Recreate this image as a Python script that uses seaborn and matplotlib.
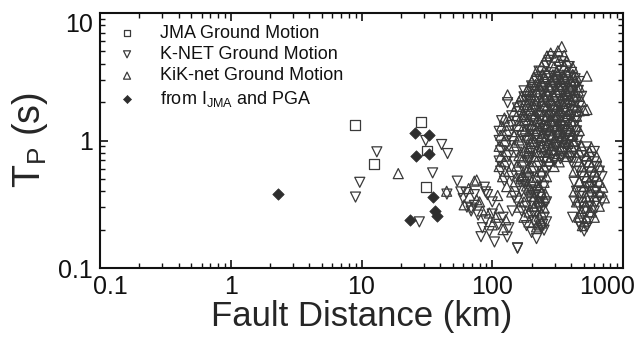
import matplotlib
matplotlib.use("Agg")
import matplotlib.pyplot as plt
import matplotlib.transforms as mtransforms
from matplotlib.ticker import FixedLocator, NullFormatter, LogLocator
import seaborn as sns
import pandas as pd

# ---------------- data ----------------
jma_dist = [8.95, 12.4, 28.6, 31.7, 31.1]
jma_tp = [1.32, 0.655, 1.39, 0.834, 0.43]

calc_dist = [2.28, 25.7, 32.7, 26.0, 32.6, 35.5, 36.5, 38.0, 23.7]
calc_tp = [0.383, 1.15, 1.10, 0.76, 0.785, 0.36, 0.28, 0.255, 0.239]

knet_dist = [
    9.0, 9.7, 13.1, 27.7, 31, 35, 41, 45.5, 45, 54, 57.5,
    63, 73, 87, 92, 64, 73, 69, 100, 89, 84, 121, 134, 82, 104, 130, 156, 142, 95, 89, 69, 100, 60, 78, 112,
    285,
    272, 339,
    260, 325, 388,
    228, 285, 339, 404, 430,
    228, 272, 325, 388,
    218, 260, 310, 370, 463,
    200, 249, 297, 355, 423,
    175, 209, 238, 285, 339, 404, 455,
    175, 228, 272, 325, 388, 482,
    131, 183, 218, 260, 310, 370, 441,
    156, 168, 228, 272, 325, 388, 463,
    160, 209, 249, 297, 355, 423,
    141, 191, 238, 285, 340, 404, 441,
    118, 154, 200, 249, 310, 370, 441,
    141, 183, 238, 285, 340, 423,
    113, 154, 200, 249, 297, 355, 441,
    134, 168, 218, 260, 310, 370, 430,
    113, 141, 183, 228, 272, 325, 388, 450,
    127, 168, 218, 260, 310, 370, 441, 527,
    116, 154, 200, 249, 297, 355, 423, 505, 603,
    134, 183, 238, 285, 340, 404, 482, 574,
    113, 147, 191, 249, 297, 404, 505, 603,
    129, 175, 228, 272, 527, 627,
    116, 160, 209, 260, 441, 552, 659,
    141, 191, 238, 482, 574, 690,
    124, 175, 228, 423, 505, 603,
    160, 209, 249, 527, 574,
    168, 218, 441, 482, 627,
    147, 191, 238, 463, 574, 659,
    154, 200, 260, 423, 482, 627, 690,
    183, 228, 463, 552,
    168, 218, 505, 603,
    200, 249, 412, 482,
    209, 260, 463, 552,
    183, 238, 475, 527,
    200, 249, 505,
    156, 218,
    # denser core
    233, 279, 303, 332, 362,
    205, 254, 279, 303, 332, 362, 396,
    192, 233, 254, 303, 332, 362, 396, 430,
    180, 214, 254, 279, 332, 362, 396,
    172, 205, 233, 279, 303, 332, 396,
    192, 233, 254, 303, 332, 362,
    180, 214, 254, 279, 332, 362, 396,
    205, 233, 279, 303, 362,
    192, 254, 303, 332, 396,
    180, 214, 243, 196, 233, 165, 205, 243,
]
knet_tp = [
    0.36, 0.47, 0.815, 0.23, 1.0, 0.557, 0.93, 0.79, 0.38, 0.48, 0.395,
    0.39, 0.376, 0.43, 0.376, 0.30, 0.31, 0.28, 0.33, 0.239, 0.207, 0.25, 0.207, 0.176, 0.16, 0.175, 0.144, 0.28, 0.193, 0.395, 0.295, 0.265, 0.35, 0.26, 0.22,
    4.55,
    4.25, 4.15,
    3.85, 3.75, 3.8,
    3.5, 3.4, 3.48, 3.42, 3.05,
    3.1, 3.18, 3.12, 3.2,
    2.92, 2.86, 2.93, 2.88, 2.9,
    2.68, 2.62, 2.66, 2.63, 2.68,
    2.45, 2.4, 2.44, 2.41, 2.43, 2.4, 2.47,
    2.2, 2.24, 2.21, 2.23, 2.19, 2.22,
    1.98, 2.05, 2.01, 2.04, 2.02, 2.05, 2.0,
    1.8, 1.87, 1.84, 1.86, 1.83, 1.87, 1.85,
    1.68, 1.72, 1.69, 1.71, 1.68, 1.72,
    1.56, 1.54, 1.57, 1.55, 1.53, 1.56, 1.52,
    1.43, 1.41, 1.43, 1.42, 1.40, 1.43, 1.41,
    1.31, 1.29, 1.31, 1.30, 1.28, 1.31,
    1.18, 1.20, 1.19, 1.21, 1.18, 1.20, 1.19,
    1.10, 1.08, 1.10, 1.09, 1.07, 1.10, 1.08,
    1.0, 0.98, 1.0, 0.99, 1.01, 0.98, 1.0, 0.99,
    0.91, 0.89, 0.91, 0.9, 0.88, 0.91, 0.9, 0.89,
    0.83, 0.81, 0.82, 0.83, 0.81, 0.82, 0.83, 0.81, 0.82,
    0.76, 0.74, 0.75, 0.76, 0.74, 0.75, 0.76, 0.74,
    0.69, 0.68, 0.69, 0.68, 0.70, 0.68, 0.69, 0.68,
    0.63, 0.62, 0.63, 0.62, 0.63, 0.62,
    0.575, 0.565, 0.57, 0.575, 0.57, 0.565, 0.575,
    0.525, 0.515, 0.52, 0.525, 0.515, 0.52,
    0.48, 0.47, 0.48, 0.47, 0.475, 0.48,
    0.44, 0.43, 0.44, 0.43, 0.44,
    0.40, 0.39, 0.40, 0.39, 0.40,
    0.365, 0.355, 0.36, 0.365, 0.355, 0.36,
    0.335, 0.325, 0.33, 0.335, 0.325, 0.33, 0.335,
    0.305, 0.295, 0.30, 0.305,
    0.28, 0.27, 0.275, 0.28,
    0.255, 0.25, 0.25, 0.245,
    0.235, 0.23, 0.225, 0.23,
    0.215, 0.205, 0.21, 0.21,
    0.19, 0.198, 0.195,
    0.143, 0.17,
    3.0, 3.05, 2.97, 3.02, 2.99,
    2.52, 2.55, 2.5, 2.53, 2.51, 2.56, 2.49,
    2.1, 2.12, 2.08, 2.11, 2.09, 2.13, 2.07, 2.1,
    1.75, 1.77, 1.74, 1.76, 1.73, 1.77, 1.75,
    1.46, 1.48, 1.45, 1.47, 1.44, 1.48, 1.46,
    1.22, 1.24, 1.21, 1.23, 1.2, 1.22,
    1.03, 1.04, 1.02, 1.05, 1.03, 1.01, 1.04,
    0.87, 0.88, 0.86, 0.89, 0.87,
    0.72, 0.73, 0.71, 0.72, 0.73,
    0.45, 0.37, 0.30, 0.41, 0.33, 0.5, 0.27, 0.22,
]

kik_dist = [
    19.1, 44.8, 76, 73,
    61, 80, 95, 106, 100, 127, 121, 113, 84, 76, 66, 110,
    340,
    280, 318,
    262, 300, 355,
    249, 325, 370, 412,
    238, 297, 355,
    218, 260, 310, 370,
    209, 249, 297, 355, 441, 530,
    200, 238, 285, 340, 404, 430,
    191, 228, 272, 325, 388, 463,
    183, 218, 260, 310, 370, 455,
    131, 168, 200, 249, 297, 355, 423,
    160, 191, 238, 285, 340, 404, 482,
    154, 200, 249, 297, 355, 441, 505,
    147, 183, 228, 272, 325, 388, 463, 530,
    124, 168, 209, 260, 310, 370, 441,
    134, 175, 228, 285, 340, 404,
    118, 160, 209, 260, 310, 370, 441,
    129, 175, 218, 272, 325, 388, 463,
    116, 147, 191, 238, 285, 340, 404,
    124, 160, 209, 249, 297, 355, 423,
    113, 147, 191, 238, 285, 340, 404, 482, 574,
    129, 175, 228, 272, 325, 388, 463, 552,
    116, 160, 209, 260, 310, 370, 441, 527, 627,
    124, 168, 218, 272, 325, 463, 552,
    113, 154, 200, 249, 297, 482, 574, 659,
    134, 183, 238, 423, 505, 603,
    120, 168, 218, 260, 527, 627,
    150, 200, 249, 463, 552, 659,
    129, 183, 228, 505, 603, 700,
    141, 200, 238, 423, 552, 659,
    160, 209, 249, 527, 603, 720,
    175, 228, 441, 505, 580,
    160, 209, 249, 527, 659,
    191, 238, 482, 574,
    175, 228, 463, 527, 603,
    191, 238, 505, 228,
    218, 489,
    # denser core
    243, 291, 318, 347, 379, 413,
    214, 243, 266, 318, 347, 379, 413,
    196, 243, 266, 291, 347, 379, 413,
    186, 214, 266, 291, 318, 347, 413,
    176, 214, 243, 291, 318, 379,
    200, 243, 266, 318, 347, 379,
    214, 243, 291, 318, 347, 413,
    196, 266, 291, 347, 379,
    186, 243, 318, 379,
    165, 196, 233, 186, 222, 255,
]
kik_tp = [
    0.55, 0.40, 0.49, 0.48,
    0.313, 0.33, 0.27, 0.25, 0.218, 0.239, 0.20, 0.295, 0.28, 0.343, 0.42, 0.37,
    5.45,
    4.85, 5.05,
    4.6, 4.5, 4.65,
    4.15, 4.25, 4.2, 3.75,
    3.82, 3.78, 3.85,
    3.48, 3.42, 3.46, 3.44,
    3.12, 3.17, 3.14, 3.16, 3.13, 3.2,
    2.9, 2.88, 2.92, 2.89, 2.91, 2.95,
    2.64, 2.67, 2.63, 2.66, 2.64, 2.62,
    2.43, 2.41, 2.44, 2.4, 2.42, 2.45,
    2.28, 2.21, 2.23, 2.2, 2.22, 2.24, 2.21,
    2.02, 2.04, 2.02, 2.05, 2.03, 2.01, 2.03,
    1.85, 1.86, 1.84, 1.86, 1.85, 1.84, 1.72,
    1.7, 1.71, 1.69, 1.7, 1.72, 1.69, 1.71, 1.75,
    1.5, 1.55, 1.56, 1.54, 1.55, 1.57, 1.55,
    1.42, 1.43, 1.41, 1.43, 1.42, 1.41,
    1.3, 1.31, 1.3, 1.29, 1.31, 1.3, 1.29,
    1.2, 1.18, 1.2, 1.19, 1.21, 1.18, 1.2,
    1.1, 1.09, 1.1, 1.08, 1.1, 1.09, 1.1,
    0.99, 1.01, 0.99, 1.0, 0.99, 1.01, 0.98,
    0.9, 0.91, 0.9, 0.89, 0.91, 0.9, 0.9, 0.91, 0.88,
    0.82, 0.83, 0.82, 0.81, 0.83, 0.82, 0.81, 0.82,
    0.75, 0.76, 0.75, 0.74, 0.76, 0.75, 0.74, 0.76, 0.75,
    0.68, 0.69, 0.685, 0.69, 0.68, 0.69, 0.68,
    0.625, 0.63, 0.62, 0.63, 0.625, 0.62, 0.63, 0.625,
    0.57, 0.575, 0.565, 0.575, 0.57, 0.565,
    0.52, 0.525, 0.515, 0.52, 0.52, 0.525,
    0.475, 0.48, 0.47, 0.48, 0.475, 0.47,
    0.435, 0.44, 0.43, 0.435, 0.44, 0.43,
    0.395, 0.40, 0.39, 0.395, 0.40, 0.39,
    0.36, 0.365, 0.355, 0.36, 0.365, 0.355,
    0.33, 0.335, 0.33, 0.335, 0.30,
    0.30, 0.305, 0.295, 0.30, 0.305,
    0.275, 0.27, 0.28, 0.275,
    0.25, 0.255, 0.25, 0.245, 0.25,
    0.23, 0.225, 0.23, 0.218,
    0.21, 0.215,
    3.3, 3.28, 3.33, 3.27, 3.31, 3.29,
    2.75, 2.77, 2.73, 2.76, 2.74, 2.78, 2.72,
    2.3, 2.32, 2.28, 2.31, 2.29, 2.33, 2.27,
    1.92, 1.94, 1.9, 1.93, 1.91, 1.95, 1.9,
    1.6, 1.62, 1.58, 1.61, 1.59, 1.63,
    1.34, 1.36, 1.33, 1.35, 1.32, 1.36,
    1.13, 1.14, 1.12, 1.15, 1.13, 1.11,
    0.95, 0.96, 0.94, 0.97, 0.95,
    0.8, 0.81, 0.79, 0.8,
    0.5, 0.41, 0.33, 0.6, 0.45, 0.38,
]

labels = ["JMA Ground Motion", "K-NET Ground Motion", "KiK-net Ground Motion",
          r"from I$_\mathregular{JMA}$ and PGA"]
x_ticks = [0.1, 1, 10, 100, 1000]
y_ticks = [0.1, 1, 10]

# ---------------- style ----------------
sns.set_style("ticks")
plt.rcParams["font.family"] = ["Liberation Sans", "DejaVu Sans"]
plt.rcParams["mathtext.fontset"] = "custom"
plt.rcParams["mathtext.rm"] = "Liberation Sans"

fig = plt.figure(figsize=(6.44, 3.38), dpi=100)
ax = fig.add_axes([100 / 644, 1 - 268 / 338, 523 / 644, 255 / 338])

edge = "#3a3a3a"
jma_df = pd.DataFrame({"d": jma_dist, "t": jma_tp})
knet_df = pd.DataFrame({"d": knet_dist, "t": knet_tp})
kik_df = pd.DataFrame({"d": kik_dist, "t": kik_tp})
calc_df = pd.DataFrame({"d": calc_dist, "t": calc_tp})

sns.scatterplot(data=jma_df, x="d", y="t", marker="s", s=48, color=edge,
                facecolor="none", edgecolor=edge, linewidth=0.9, ax=ax, label=labels[0], zorder=3)
sns.scatterplot(data=knet_df, x="d", y="t", marker="v", s=52, color=edge,
                facecolor="none", edgecolor=edge, linewidth=0.9, ax=ax, label=labels[1], zorder=3)
sns.scatterplot(data=kik_df, x="d", y="t", marker="^", s=52, color=edge,
                facecolor="none", edgecolor=edge, linewidth=0.9, ax=ax, label=labels[2], zorder=3)
sns.scatterplot(data=calc_df, x="d", y="t", marker="D", s=34, color="#2e2e2e",
                edgecolor="#2e2e2e", linewidth=0.5, ax=ax, label=labels[3], zorder=4)

ax.set_xscale("log")
ax.set_yscale("log")
ax.set_xlim(0.1, 1000)
ax.set_ylim(0.1, 10)
ax.xaxis.set_major_locator(FixedLocator(x_ticks))
ax.yaxis.set_major_locator(FixedLocator(y_ticks))
ax.xaxis.set_minor_locator(LogLocator(base=10, subs=range(2, 10)))
ax.yaxis.set_minor_locator(LogLocator(base=10, subs=range(2, 10)))
ax.xaxis.set_minor_formatter(NullFormatter())
ax.yaxis.set_minor_formatter(NullFormatter())
ax.set_xticklabels(["%g" % v for v in x_ticks])
ax.set_yticklabels(["%g" % v for v in y_ticks])

for sp in ax.spines.values():
    sp.set_linewidth(1.5)
    sp.set_color("#111111")
ax.tick_params(which="both", direction="in", top=True, right=True, colors="#111111")
ax.tick_params(which="major", length=6, width=1.2, labelsize=18, pad=5)
ax.tick_params(which="minor", length=3.5, width=1.0)

ax.set_xlabel("Fault Distance (km)", fontsize=25, labelpad=1)
ax.set_ylabel(r"T$_\mathregular{P}$ (s)", fontsize=27, labelpad=6)

leg = ax.legend(loc="upper left", bbox_to_anchor=(0.012, 1.0), frameon=False, fontsize=13,
                markerscale=0.7, handlelength=1.0, handletextpad=1.3, labelspacing=0.24,
                borderpad=0.3, borderaxespad=0.35)
for t in leg.get_texts():
    t.set_color("#111111")

# nudge the edge tick labels like the reference
xl = ax.get_xticklabels()
xl[0].set_transform(xl[0].get_transform() + mtransforms.ScaledTranslation(10 / 100, 0, fig.dpi_scale_trans))
xl[-1].set_transform(xl[-1].get_transform() + mtransforms.ScaledTranslation(-16 / 100, 0, fig.dpi_scale_trans))
yl = ax.get_yticklabels()
yl[-1].set_transform(yl[-1].get_transform() + mtransforms.ScaledTranslation(0, -9 / 100, fig.dpi_scale_trans))

fig.savefig("out.png", dpi=100)
